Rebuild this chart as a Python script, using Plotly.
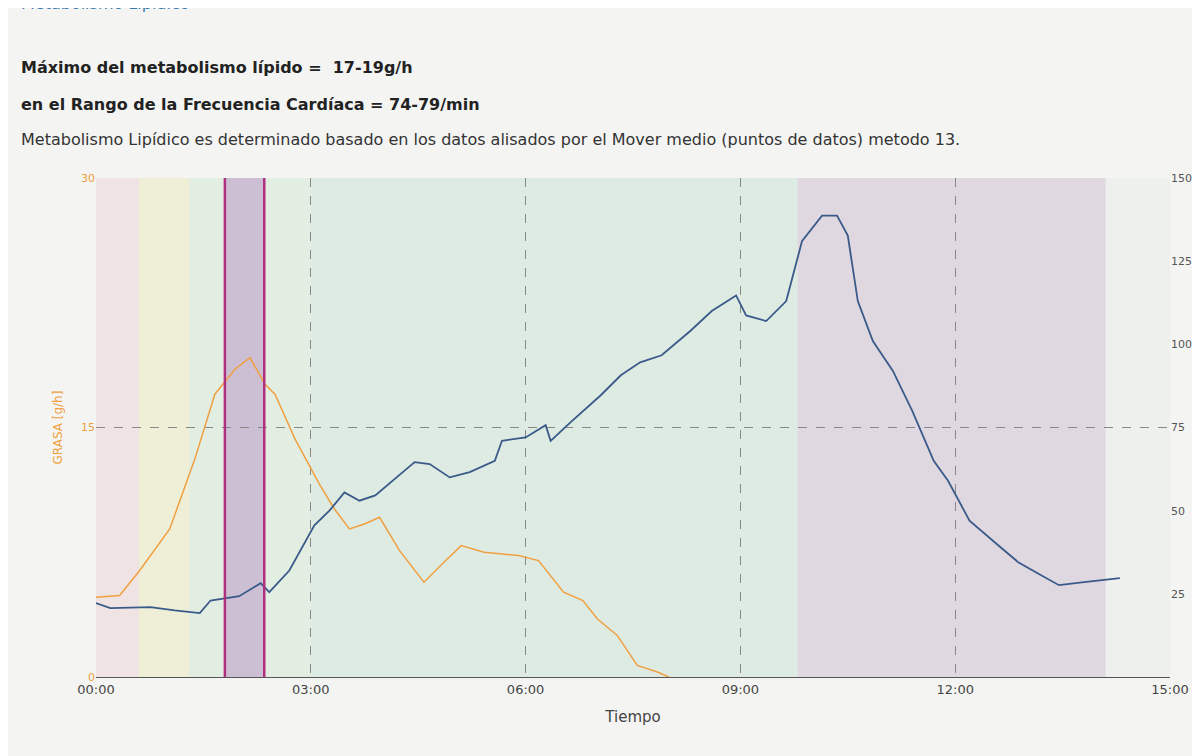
import plotly.graph_objects as go

fat_t = [0,0.33,0.61,1.03,1.38,1.66,1.94,2.15,2.36,2.5,2.78,3.12,3.33,3.54,3.75,3.96,4.24,4.58,4.86,5.1,5.42,5.9,6.18,6.53,6.8,7.0,7.28,7.56,7.84,8.0]
fat_v = [4.8,4.9,6.4,8.9,13.1,17,18.5,19.2,17.6,17,14.3,11.6,10.1,8.9,9.2,9.6,7.6,5.7,6.9,7.9,7.5,7.3,7,5.1,4.6,3.5,2.5,0.7,0.3,0]
hr_t = [0,0.2,0.76,1.1,1.45,1.6,2.0,2.3,2.42,2.7,3.05,3.26,3.47,3.68,3.9,4.18,4.45,4.66,4.94,5.22,5.57,5.67,6.0,6.28,6.35,6.63,7.05,7.33,7.6,7.9,8.3,8.6,8.94,9.08,9.36,9.64,9.86,10.14,10.35,10.5,10.64,10.85,11.13,11.4,11.7,11.9,12.2,12.6,12.88,13.2,13.45,13.8,14.3]
hr_v = [22.2,20.7,21,20,19.2,23,24.3,28.2,25.5,32,45.6,50,55.5,53,54.6,59.8,64.6,64,60,61.6,65,71,72,75.7,71,76.6,84.7,90.7,94.6,96.7,104,110,114.7,108.7,107,113,131,138.7,138.7,132.7,113,101,92,80,65,59,47,39.6,34.5,30.6,27.6,28.5,29.7]
x_ticks = [0,3,6,9,12,15]
x_labels = ["00:00","03:00","06:00","09:00","12:00","15:00"]
zones = [(0,0.6,"rgba(240,215,215,0.5)"),(0.6,1.3,"rgba(240,238,200,0.6)"),(1.3,3.0,"rgba(215,235,215,0.5)"),
         (3.0,9.8,"rgba(210,232,220,0.6)"),(9.8,14.1,"rgba(215,200,215,0.6)")]
hl = (1.8, 2.35)

fig = go.Figure()
fig.add_trace(go.Scatter(x=fat_t, y=fat_v, mode="lines", line=dict(color="#f0a040", width=1.5), yaxis="y"))
fig.add_trace(go.Scatter(x=hr_t, y=hr_v, mode="lines", line=dict(color="#3a5a8a", width=1.8), yaxis="y2"))
shapes = [dict(type="rect", xref="x", yref="paper", x0=a, x1=b, y0=0, y1=1, fillcolor=c, line_width=0, layer="below") for a,b,c in zones]
shapes.append(dict(type="rect", xref="x", yref="paper", x0=hl[0], x1=hl[1], y0=0, y1=1, fillcolor="rgba(190,160,200,0.6)", line_width=0, layer="below"))
for xv in hl:
    shapes.append(dict(type="line", xref="x", yref="paper", x0=xv, x1=xv, y0=0, y1=1, line=dict(color="#b03080", width=2.5)))
shapes.append(dict(type="line", xref="paper", yref="paper", x0=0.16, x1=1.03, y0=1.345, y1=1.345, line=dict(color="#999", width=1)))
fig.update_layout(
    width=1200, height=756, paper_bgcolor="#f4f5f3", plot_bgcolor="#eef0ee",
    margin=dict(l=88, r=38, t=170, b=87), showlegend=False, shapes=shapes,
    font=dict(family="DejaVu Sans", color="#444"),
    xaxis=dict(range=[0,15], tickvals=x_ticks, ticktext=x_labels, showgrid=True, gridcolor="#888", griddash="dash",
               zeroline=False, showline=True, linecolor="#555", title=dict(text="Tiempo", font=dict(size=15)), tickfont=dict(size=13)),
    yaxis=dict(range=[0,30], tickvals=[0,15,30], showgrid=True, gridcolor="#888", griddash="dash", zeroline=False,
               tickfont=dict(color="#f0a040", size=11), title=dict(text="GRASA [g/h]", font=dict(color="#f0a040", size=12))),
    yaxis2=dict(range=[0,150], overlaying="y", side="right", tickvals=[25,50,75,100,125,150], showgrid=False,
                tickfont=dict(size=11, color="#555")),
    annotations=[
        dict(xref="paper", yref="paper", x=-0.072, y=1.35, xanchor="left", yanchor="middle", showarrow=False,
             text="Metabolismo Lipídico", font=dict(size=16, color="#3a7ab0")),
        dict(xref="paper", yref="paper", x=-0.072, y=1.245, xanchor="left", showarrow=False,
             text="<b>Máximo del metabolismo lípido =  17-19g/h</b>", font=dict(size=16, color="#222")),
        dict(xref="paper", yref="paper", x=-0.072, y=1.17, xanchor="left", showarrow=False,
             text="<b>en el Rango de la Frecuencia Cardíaca = 74-79/min</b>", font=dict(size=16, color="#222")),
        dict(xref="paper", yref="paper", x=-0.072, y=1.1, xanchor="left", showarrow=False,
             text="Metabolismo Lipídico es determinado basado en los datos alisados por el Mover medio (puntos de datos) metodo 13.",
             font=dict(size=16, color="#333")),
    ],
)
fig.write_html("out.html")
